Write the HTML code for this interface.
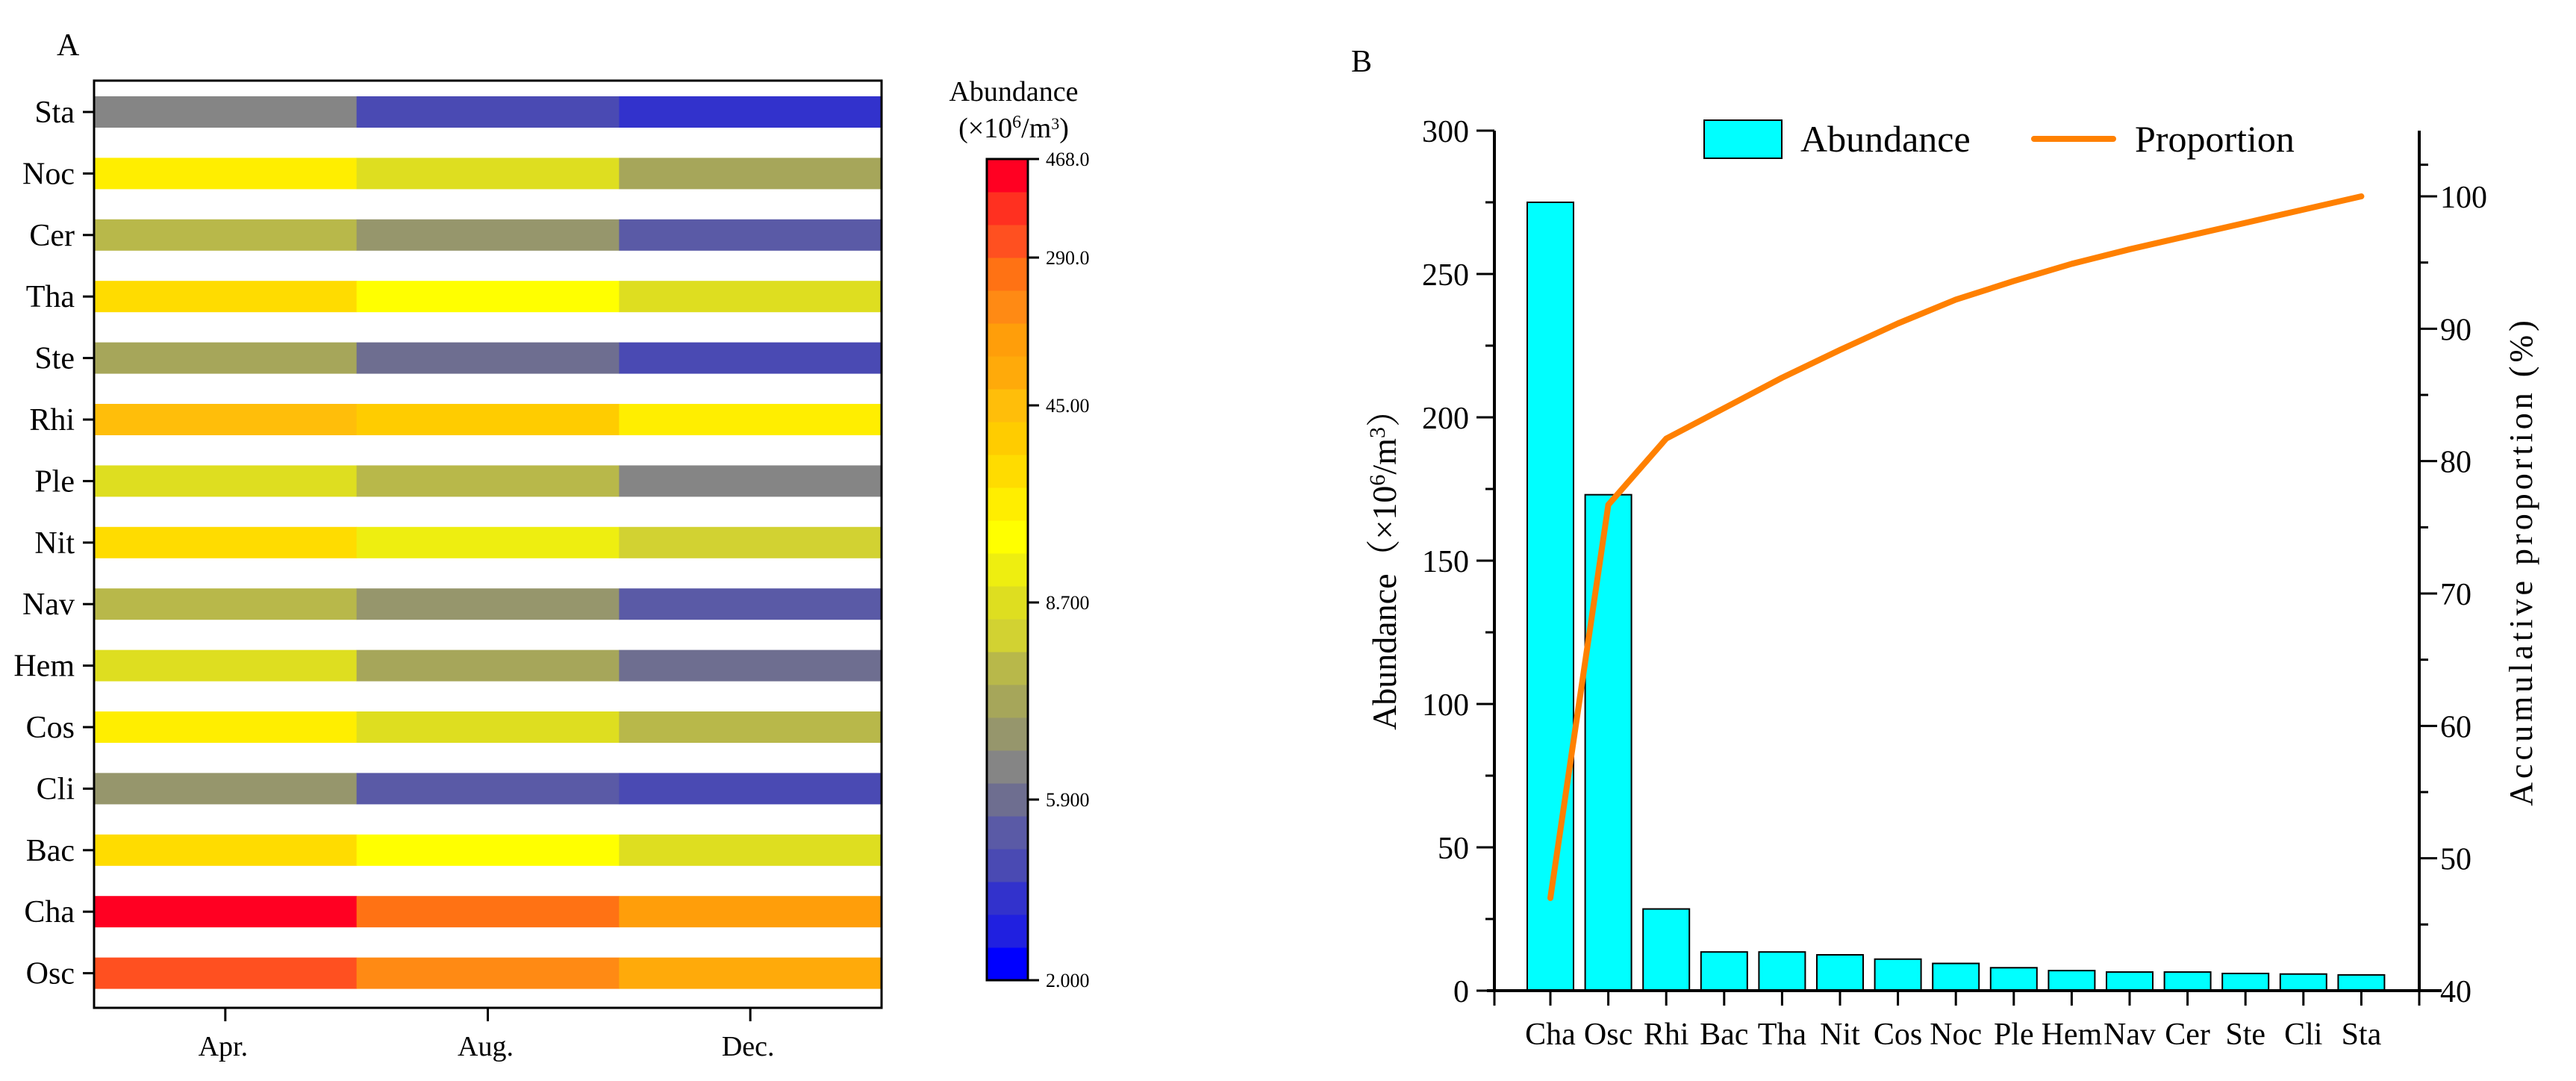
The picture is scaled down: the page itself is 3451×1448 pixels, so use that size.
<!DOCTYPE html>
<html><head><meta charset="utf-8"><style>
html,body{margin:0;padding:0;background:#fff;width:3451px;height:1448px;overflow:hidden}
svg{display:block;font-family:"Liberation Serif","Noto Serif CJK SC",serif}
</style></head><body>
<svg id="chart" width="3451" height="1448" viewBox="0 0 3451 1448"></svg>
<script>
// ---- Panel A data ----
const heatRows = ["Sta","Noc","Cer","Tha","Ste","Rhi","Ple","Nit","Nav","Hem","Cos","Cli","Bac","Cha","Osc"];
const heatCols = ["Apr.","Aug.","Dec."];
// colour level index (0 = lowest, 24 = highest) per cell
const heatApr = [6,14,9,15,8,17,11,15,9,11,14,7,15,24,22];
const heatAug = [3,11,7,13,5,16,9,12,7,8,11,4,13,21,20];
const heatDec = [2,8,4,11,3,14,6,10,4,5,9,3,11,19,18];
const levelColors = ["#0000ff","#2020e0","#3232cc","#4a4ab3","#5a5aa6","#6e6e90","#858585","#96966c","#a6a65a","#b8b84a","#d2d232","#dede20","#eeee10","#ffff00","#ffee00","#ffdc00","#ffcc00","#ffbe0a","#ffaa0a","#ff9e0a","#ff8a14","#ff7214","#ff5020","#ff3020","#ff0022"];
const cbTickLabels = ["468.0","290.0","45.00","8.700","5.900","2.000"];
const cbTickLevels = [25,22,17.5,11.5,5.5,0];
// ---- Panel B data ----
const barCats = ["Cha","Osc","Rhi","Bac","Tha","Nit","Cos","Noc","Ple","Hem","Nav","Cer","Ste","Cli","Sta"];
const barVals = [275,173,28.5,13.5,13.5,12.5,11,9.5,8,7,6.5,6.5,6,5.8,5.5];
const propVals = [47,76.7,81.7,84,86.3,88.4,90.4,92.2,93.6,94.9,96,97,98,99,100];
const leftTicks = [0,50,100,150,200,250,300];
const rightTicks = [40,50,60,70,80,90,100];

const NS="http://www.w3.org/2000/svg";
const svg=document.getElementById('chart');
function el(tag,attrs,parent,text){const e=document.createElementNS(NS,tag);for(const k in attrs)e.setAttribute(k,attrs[k]);if(text!==undefined)e.textContent=text;(parent||svg).appendChild(e);return e;}

// ================= Panel A =================
const A={l:126,r:1181,t:108,b:1350};
const gA=el('g',{});


let t=el('text',{x:76,y:74,'font-size':42},gA,'A');

const rowY=i=>150+i*82.4;
const colW=(A.r-A.l)/3;
const colX=j=>A.l+j*colW;
const cols=[heatApr,heatAug,heatDec];
heatRows.forEach((name,i)=>{
  cols.forEach((arr,j)=>{
    const r=el('rect',{x:colX(j),y:rowY(i)-21,width:colW+0.5,height:42,fill:levelColors[arr[i]]},gA);
    
    
  });
  el('line',{x1:A.l-15,x2:A.l,y1:rowY(i),y2:rowY(i),stroke:'#000','stroke-width':3},gA);
  const lb=el('text',{x:A.l-26,y:rowY(i)+14,'font-size':42,'text-anchor':'end'},gA,name);
  
  
});
const fr=el('rect',{x:A.l,y:A.t,width:A.r-A.l,height:A.b-A.t,fill:'none',stroke:'#000','stroke-width':3},gA);

heatCols.forEach((c,j)=>{
  const cx=colX(j)+colW/2;
  el('line',{x1:cx,x2:cx,y1:A.b,y2:A.b+18,stroke:'#000','stroke-width':3},gA);
  const lb=el('text',{x:cx-3,y:A.b+64,'font-size':38,'text-anchor':'middle'},gA,c);
  
  
});
// colorbar
const CB={l:1322,r:1377,t:213,b:1313};
const bandH=(CB.b-CB.t)/levelColors.length;
const cbY=lv=>CB.b-lv*bandH;
const gCB=el('g',{},gA);

levelColors.forEach((c,k)=>{
  const r=el('rect',{x:CB.l,y:cbY(k+1),width:CB.r-CB.l,height:bandH+0.5,fill:c},gCB);
  
});
el('rect',{x:CB.l,y:CB.t,width:CB.r-CB.l,height:CB.b-CB.t,fill:'none',stroke:'#000','stroke-width':3},gCB);
cbTickLabels.forEach((s,k)=>{
  const y=cbY(cbTickLevels[k]);
  el('line',{x1:CB.r,x2:CB.r+15,y1:y,y2:y,stroke:'#000','stroke-width':3},gCB);
  const lb=el('text',{x:CB.r+24,y:y+9,'font-size':26},gCB,s);
  
});
t=el('text',{x:1358,y:135,'font-size':38,'text-anchor':'middle'},gCB,'Abundance');

t=el('text',{x:1358,y:184,'font-size':38,'text-anchor':'middle'},gCB,'');

t.innerHTML='(×10<tspan dy="-13" font-size="24">6</tspan><tspan dy="13">/m</tspan><tspan dy="-11" font-size="22">3</tspan><tspan dy="11">)</tspan>';

// ================= Panel B =================
const B={l:2002,r:3241,t:175,b:1327};
const gB=el('g',{});

t=el('text',{x:1810,y:96,'font-size':42},gB,'B');

const yL=v=>B.b-(v/300)*(B.b-B.t);
const yR=v=>1327-(v-40)*(1327-263)/60;
const xC=i=>2077+i*77.6;
const bw=62;
barCats.forEach((c,i)=>{
  const r=el('rect',{x:xC(i)-bw/2,y:yL(barVals[i]),width:bw,height:B.b-yL(barVals[i]),fill:'#00ffff',stroke:'#000','stroke-width':2},gB);
  
});
const pl=el('polyline',{points:propVals.map((v,i)=>xC(i)+','+yR(v)).join(' '),fill:'none',stroke:'#ff8000','stroke-width':8,'stroke-linejoin':'round','stroke-linecap':'round'},gB);

// axes
el('line',{x1:B.l,x2:B.l,y1:B.t,y2:B.b,stroke:'#000','stroke-width':4},gB);
el('line',{x1:B.r,x2:B.r,y1:B.t,y2:B.b,stroke:'#000','stroke-width':4},gB);
const xa=el('line',{x1:B.l-10,x2:B.r+30,y1:B.b,y2:B.b,stroke:'#000','stroke-width':4},gB);

for(let v=0;v<=300;v+=25){const y=yL(v);const major=v%50===0;
  el('line',{x1:B.l-(major?24:12),x2:B.l,y1:y,y2:y,stroke:'#000','stroke-width':3},gB);}
leftTicks.forEach(v=>{const lb=el('text',{x:B.l-34,y:yL(v)+15,'font-size':42,'text-anchor':'end'},gB,String(v));
  });
for(let v=40;v<=100;v+=5){const y=yR(v);const major=v%10===0;
  el('line',{x1:B.r,x2:B.r+(major?24:12),y1:y,y2:y,stroke:'#000','stroke-width':3},gB);}
el('line',{x1:B.r,x2:B.r+12,y1:yR(102.5)+2,y2:yR(102.5)+2,stroke:'#000','stroke-width':3},gB);
rightTicks.forEach(v=>{const lb=el('text',{x:B.r+28,y:yR(v)+15,'font-size':42},gB,String(v));
  });
[B.l,B.r].forEach(x=>el('line',{x1:x,x2:x,y1:B.b,y2:B.b+20,stroke:'#000','stroke-width':3},gB));
barCats.forEach((c,i)=>{
  el('line',{x1:xC(i),x2:xC(i),y1:B.b,y2:B.b+20,stroke:'#000','stroke-width':3},gB);
  const lb=el('text',{x:xC(i),y:B.b+72,'font-size':42,'text-anchor':'middle'},gB,c);
  
});
// axis titles
t=el('text',{x:0,y:0,'font-size':46,'text-anchor':'middle',transform:'translate(1870,752) rotate(-90)'},gB,'');

t.innerHTML='Abundance（×10<tspan dy="-15" font-size="30">6</tspan><tspan dy="15">/m</tspan><tspan dy="-15" font-size="30">3</tspan><tspan dy="15">）</tspan>';
t=el('text',{x:0,y:0,'font-size':44,'text-anchor':'middle','letter-spacing':'5',transform:'translate(3392,752) rotate(-90)'},gB,'Accumulative proportion (%)');

// legend
const gL=el('g',{},gB);

let lr=el('rect',{x:2283,y:161,width:104,height:51,fill:'#00ffff',stroke:'#000','stroke-width':2},gL);

t=el('text',{x:2412,y:203,'font-size':50},gL,'Abundance');

lr=el('line',{x1:2725,x2:2831,y1:186,y2:186,stroke:'#ff8000','stroke-width':8,'stroke-linecap':'round'},gL);

t=el('text',{x:2860,y:203,'font-size':50},gL,'Proportion');

</script>
</body></html>
